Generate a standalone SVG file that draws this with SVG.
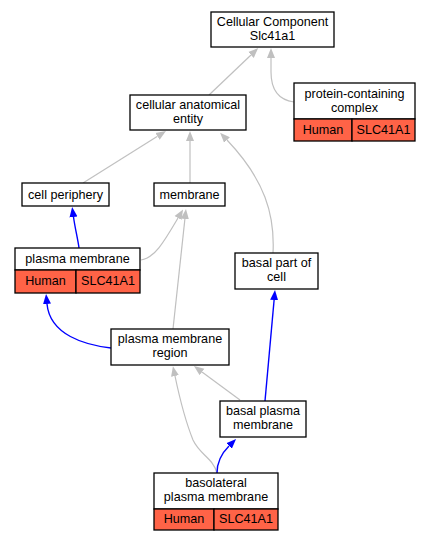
<svg xmlns="http://www.w3.org/2000/svg" width="431" height="541" viewBox="0 0 431 541">
<defs>
<style>
.n{fill:#fff;stroke:#000;stroke-width:1.3}
.t{fill:#ff6347;stroke:#000;stroke-width:1.3}
text{font-family:"Liberation Sans",Arial,sans-serif;font-size:12.6px;fill:#000;text-anchor:middle}
.g{fill:none;stroke:#c0c0c0;stroke-width:1.2}
.b{fill:none;stroke:#0000ff;stroke-width:1.4}
</style>
<marker id="ag" viewBox="0 0 10 9" refX="0" refY="4.5" markerWidth="10" markerHeight="9" markerUnits="userSpaceOnUse" orient="auto"><path d="M0,0.5L10,4.5L0,8.5z" fill="#c0c0c0"/></marker>
<marker id="ab" viewBox="0 0 10 9" refX="0" refY="4.5" markerWidth="10" markerHeight="9" markerUnits="userSpaceOnUse" orient="auto"><path d="M0,0.5L10,4.5L0,8.5z" fill="#0000ff"/></marker>
</defs>
<rect width="431" height="541" fill="#fff"/>
<g id="edges">
<path class="g" marker-end="url(#ag)" d="M209,95 L251,55"/>
<path class="g" marker-end="url(#ag)" d="M294,102 C279,100 271,90 271,72 L271,58"/>
<path class="g" marker-end="url(#ag)" d="M83,183 L157.5,136.3"/>
<path class="g" marker-end="url(#ag)" d="M190,183 L190,141"/>
<path class="g" marker-end="url(#ag)" d="M273,253 C275,215 265,180 227,140"/>
<path class="g" marker-end="url(#ag)" d="M141,260 C155,258 165,240 178,218"/>
<path class="g" marker-end="url(#ag)" d="M173,329 L184.9,219"/>
<path class="g" marker-end="url(#ag)" d="M240,400 L202,372"/>
<path class="g" marker-end="url(#ag)" d="M217,473 C213,458 200,455 193,440 C185,420 180,400 175,376"/>
<path class="b" marker-end="url(#ab)" d="M79,248 C78,240 75,228 73.5,217"/>
<path class="b" marker-end="url(#ab)" d="M111,348 C85,345 50,335 47,304"/>
<path class="b" marker-end="url(#ab)" d="M265,401 L274.1,300"/>
<path class="b" marker-end="url(#ab)" d="M217,473 C217,465 220,455 229,446"/>
</g>
<g id="cc"><rect class="n" x="211" y="12" width="123" height="35"/><text x="272.5" y="26">Cellular Component</text><text x="272.5" y="40">Slc41a1</text></g>
<g id="pcc"><rect class="n" x="294" y="83" width="121" height="36"/><text x="354.5" y="98">protein-containing</text><text x="354.5" y="112">complex</text>
<rect class="t" x="294" y="119" width="58" height="22"/><rect class="t" x="352" y="119" width="63" height="22"/><text x="323" y="134">Human</text><text x="383.5" y="134">SLC41A1</text></g>
<g id="cae"><rect class="n" x="130" y="95" width="116" height="35"/><text x="188" y="109">cellular anatomical</text><text x="188" y="123">entity</text></g>
<g id="cp"><rect class="n" x="22" y="183" width="87" height="23"/><text x="65.5" y="199">cell periphery</text></g>
<g id="mem"><rect class="n" x="154" y="183" width="71" height="23"/><text x="189.5" y="199">membrane</text></g>
<g id="pm"><rect class="n" x="15" y="248" width="125" height="22"/><text x="77.5" y="263">plasma membrane</text>
<rect class="t" x="15" y="270" width="61" height="23"/><rect class="t" x="76" y="270" width="64" height="23"/><text x="45.5" y="285">Human</text><text x="108" y="285">SLC41A1</text></g>
<g id="bpc"><rect class="n" x="235" y="253" width="83" height="36"/><text x="276.5" y="267">basal part of</text><text x="276.5" y="281">cell</text></g>
<g id="pmr"><rect class="n" x="111" y="329" width="118" height="36"/><text x="170" y="343">plasma membrane</text><text x="170" y="357">region</text></g>
<g id="bpm"><rect class="n" x="220" y="401" width="86" height="36"/><text x="263" y="415">basal plasma</text><text x="263" y="429">membrane</text></g>
<g id="bl"><rect class="n" x="154" y="473" width="124" height="36"/><text x="216" y="487">basolateral</text><text x="216" y="501">plasma membrane</text>
<rect class="t" x="154" y="509" width="60" height="21"/><rect class="t" x="214" y="509" width="64" height="21"/><text x="184" y="523">Human</text><text x="246" y="523">SLC41A1</text></g>
</svg>
